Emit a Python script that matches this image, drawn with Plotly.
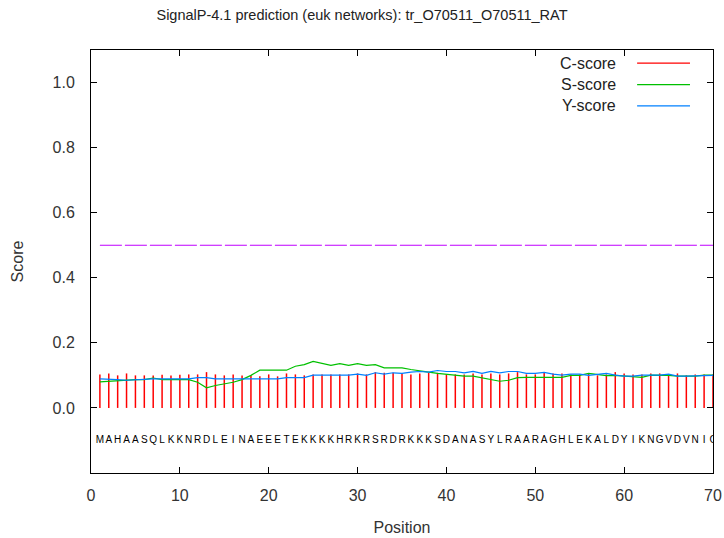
import plotly.graph_objects as go

positions = list(range(1, 71))
sequence = list("MAHAASQLKKNRDLEINAEEETEKKKKHRKRSRDRKKKSDANASYLRAARAGHLEKALDYIKNGVDVNIC")

c_score = [0.103, 0.106, 0.100, 0.106, 0.100, 0.100, 0.100, 0.102, 0.100, 0.102,
           0.103, 0.103, 0.110, 0.103, 0.100, 0.103, 0.100, 0.100, 0.097, 0.103,
           0.097, 0.106, 0.103, 0.100, 0.103, 0.103, 0.103, 0.103, 0.103, 0.106,
           0.103, 0.110, 0.108, 0.108, 0.106, 0.103, 0.106, 0.108, 0.108, 0.103,
           0.103, 0.103, 0.106, 0.103, 0.106, 0.103, 0.106, 0.110, 0.103, 0.103,
           0.108, 0.106, 0.106, 0.103, 0.103, 0.106, 0.100, 0.103, 0.110, 0.106,
           0.103, 0.103, 0.106, 0.106, 0.103, 0.106, 0.100, 0.103, 0.103, 0.103]

s_score = [0.080, 0.082, 0.083, 0.087, 0.087, 0.087, 0.092, 0.087, 0.087, 0.087,
           0.087, 0.079, 0.062, 0.069, 0.074, 0.079, 0.087, 0.100, 0.116, 0.116,
           0.116, 0.116, 0.128, 0.133, 0.143, 0.136, 0.131, 0.136, 0.131, 0.136,
           0.131, 0.133, 0.123, 0.123, 0.123, 0.118, 0.115, 0.110, 0.106, 0.103,
           0.102, 0.098, 0.098, 0.093, 0.089, 0.082, 0.085, 0.093, 0.094, 0.094,
           0.094, 0.094, 0.094, 0.100, 0.100, 0.106, 0.102, 0.099, 0.100, 0.098,
           0.098, 0.094, 0.101, 0.101, 0.100, 0.098, 0.098, 0.098, 0.101, 0.101]

y_score = [0.089, 0.089, 0.087, 0.085, 0.087, 0.087, 0.089, 0.089, 0.089, 0.089,
           0.089, 0.093, 0.093, 0.089, 0.089, 0.089, 0.089, 0.090, 0.091, 0.091,
           0.089, 0.093, 0.093, 0.093, 0.101, 0.101, 0.101, 0.101, 0.101, 0.104,
           0.100, 0.108, 0.104, 0.108, 0.106, 0.110, 0.112, 0.110, 0.115, 0.112,
           0.112, 0.108, 0.112, 0.106, 0.112, 0.108, 0.112, 0.112, 0.106, 0.106,
           0.109, 0.104, 0.101, 0.104, 0.104, 0.100, 0.103, 0.106, 0.101, 0.098,
           0.098, 0.101, 0.101, 0.101, 0.104, 0.098, 0.098, 0.098, 0.098, 0.100]

threshold = 0.5
seq_y = -0.1

x_ticks = [0, 10, 20, 30, 40, 50, 60, 70]
y_ticks = [0.0, 0.2, 0.4, 0.6, 0.8, 1.0]

RED = "#ff0000"
GREEN = "#00c000"
BLUE = "#0080ff"
MAGENTA = "#c000ff"
FONT = "Liberation Sans"

# impulses for C-score
cx, cy = [], []
for p, v in zip(positions, c_score):
    cx += [p, p, None]
    cy += [0, v, None]

fig = go.Figure()
fig.add_trace(go.Scatter(x=cx, y=cy, mode="lines",
                         line=dict(color=RED, width=1.5), showlegend=False, hoverinfo="skip"))
fig.add_trace(go.Scatter(x=positions, y=s_score, mode="lines",
                         line=dict(color=GREEN, width=1.2), showlegend=False))
fig.add_trace(go.Scatter(x=positions, y=y_score, mode="lines",
                         line=dict(color=BLUE, width=1.2), showlegend=False))
fig.add_trace(go.Scatter(x=[positions[0], positions[-1]], y=[threshold, threshold], mode="lines",
                         line=dict(color=MAGENTA, width=1.2, dash="22px,3px"),
                         showlegend=False))
fig.add_trace(go.Scatter(x=positions, y=[seq_y] * len(positions), mode="text",
                         text=sequence, textposition="middle center",
                         textfont=dict(family=FONT, size=10, color="black"),
                         showlegend=False, hoverinfo="skip"))

# custom gnuplot-style legend (text right, line sample left)
legend_items = [("C-score", RED), ("S-score", GREEN), ("Y-score", BLUE)]
legend_y = [0.969, 0.918, 0.868]
for (name, col), ly in zip(legend_items, legend_y):
    fig.add_annotation(x=0.848, y=ly, xref="paper", yref="paper", text=name,
                       showarrow=False, xanchor="right", yanchor="middle",
                       font=dict(family=FONT, size=16, color="#222222"))
    fig.add_shape(type="line", xref="paper", yref="paper",
                  x0=0.878, x1=0.963, y0=ly, y1=ly,
                  line=dict(color=col, width=1.2))

axis_common = dict(showgrid=False, zeroline=False, showline=True, linecolor="#000000",
                   linewidth=1, mirror="ticks", ticks="inside", ticklen=6, automargin=False,
                   tickcolor="#000000", tickfont=dict(family=FONT, size=16, color="#333333"))

fig.update_xaxes(range=[0, 70], tickvals=x_ticks, ticktext=[str(t) for t in x_ticks],
                 ticklabelstandoff=8,
                 title=dict(text="Position", font=dict(family=FONT, size=16, color="#333333"),
                            standoff=18),
                 **axis_common)
fig.update_yaxes(range=[-0.2, 1.1], tickvals=y_ticks, ticktext=[f"{t:.1f}" for t in y_ticks],
                 ticklabelstandoff=12,
                 title=dict(text="Score", font=dict(family=FONT, size=16, color="#333333"),
                            standoff=24),
                 **axis_common)

fig.update_layout(
    width=724, height=538,
    margin=dict(l=91, r=11, t=50, b=65),
    paper_bgcolor="white", plot_bgcolor="white",
    title=dict(text="SignalP-4.1 prediction (euk networks): tr_O70511_O70511_RAT",
               x=0.5, xanchor="center", y=0.972, yanchor="middle",
               font=dict(family=FONT, size=14.5, color="#222222")),
    showlegend=False,
)

fig.write_html("out.html")
